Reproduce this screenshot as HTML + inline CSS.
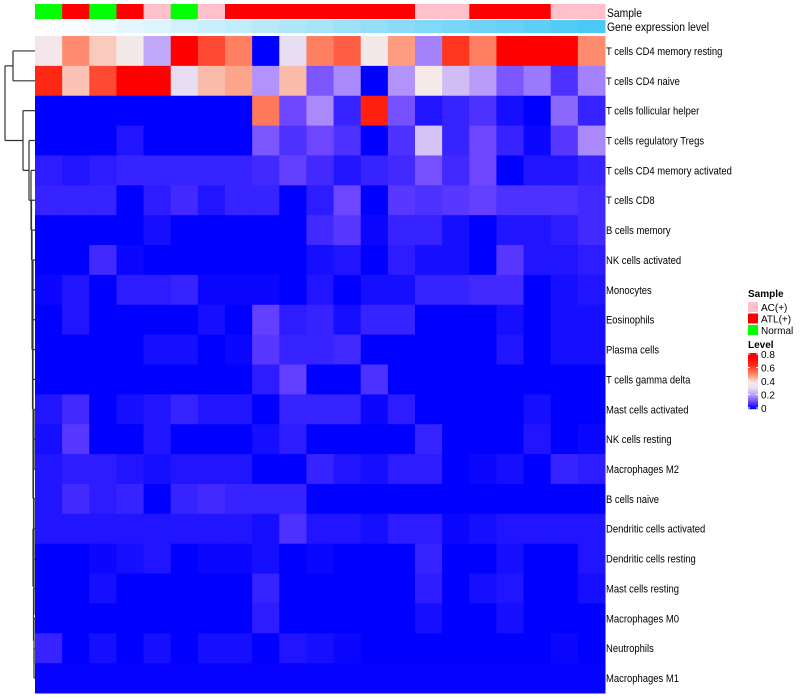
<!DOCTYPE html>
<html><head><meta charset="utf-8"><style>
body{margin:0;background:#fff;}
svg{display:block;font-family:"Liberation Sans",sans-serif;}
</style></head><body>
<svg id="chart" width="800" height="700"></svg>
<script>
const rowLabels=["T cells CD4 memory resting","T cells CD4 naive","T cells follicular helper","T cells regulatory  Tregs","T cells CD4 memory activated","T cells CD8","B cells memory","NK cells activated","Monocytes","Eosinophils","Plasma cells","T cells gamma delta","Mast cells activated","NK cells resting","Macrophages M2","B cells naive","Dendritic cells activated","Dendritic cells resting","Mast cells resting","Macrophages M0","Neutrophils","Macrophages M1"];
const sampleGroups=["Normal","ATL(+)","Normal","ATL(+)","AC(+)","Normal","AC(+)","ATL(+)","ATL(+)","ATL(+)","ATL(+)","ATL(+)","ATL(+)","ATL(+)","AC(+)","AC(+)","ATL(+)","ATL(+)","ATL(+)","AC(+)","AC(+)"];
const legendGroups=["AC(+)","ATL(+)","Normal"];
const levelTicks=[0,0.2,0.4,0.6,0.8];
const values=[
[0.36,0.5,0.42,0.37,0.22,0.75,0.6,0.52,0,0.3,0.52,0.57,0.37,0.48,0.17,0.63,0.52,0.8,0.8,0.8,0.5],
[0.65,0.43,0.6,0.75,0.75,0.3,0.44,0.47,0.19,0.44,0.12,0.18,0,0.19,0.38,0.25,0.2,0.12,0.16,0.07,0.17],
[0,0,0,0,0,0,0,0,0.53,0.1,0.18,0.05,0.67,0.11,0.03,0.05,0.07,0.02,0,0.14,0.05],
[0,0,0,0.03,0,0,0,0,0.12,0.07,0.1,0.07,0,0.07,0.26,0.05,0.1,0.05,0.01,0.08,0.18],
[0.04,0.03,0.04,0.05,0.05,0.05,0.05,0.05,0.06,0.09,0.06,0.03,0.05,0.06,0.11,0.06,0.1,0,0.03,0.03,0.05],
[0.05,0.05,0.05,0,0.04,0.06,0.03,0.05,0.05,0,0.04,0.1,0,0.08,0.07,0.08,0.09,0.07,0.07,0.07,0.06],
[0,0,0,0,0.02,0,0,0,0,0,0.06,0.08,0.01,0.05,0.05,0.02,0,0.03,0.03,0.04,0.06],
[0,0,0.06,0.01,0,0,0,0,0,0,0.02,0.03,0,0.04,0.02,0.02,0,0.08,0.03,0.03,0.04],
[0.01,0.03,0,0.04,0.04,0.05,0.01,0.01,0.01,0,0.03,0,0.02,0.02,0.05,0.05,0.06,0.06,0,0.02,0.03],
[0,0.03,0,0,0,0,0.02,0,0.09,0.04,0.05,0.02,0.05,0.05,0,0,0,0.02,0,0.02,0.02],
[0,0,0,0,0.02,0.02,0,0.01,0.08,0.05,0.05,0.06,0,0,0,0,0,0.03,0,0.02,0.02],
[0,0,0,0,0,0,0,0,0.04,0.09,0,0,0.07,0,0,0,0,0,0,0,0],
[0.03,0.06,0,0.02,0.03,0.05,0.03,0.03,0,0.05,0.05,0.05,0.01,0.04,0,0,0,0,0.02,0,0],
[0.02,0.08,0,0,0.03,0,0,0,0.02,0.04,0,0,0,0,0.05,0,0,0,0.03,0,0.01],
[0.03,0.04,0.04,0.03,0.02,0.03,0.03,0.03,0,0,0.05,0.03,0.02,0.04,0.04,0,0.01,0.02,0,0.05,0.04],
[0.03,0.06,0.04,0.05,0,0.05,0.06,0.05,0.05,0.05,0,0,0,0,0,0,0,0,0,0,0],
[0.03,0.03,0.03,0.03,0.03,0.03,0.03,0.03,0.02,0.07,0.03,0.03,0.02,0.04,0.04,0.01,0.02,0.03,0.03,0.03,0.03],
[0,0,0.01,0.02,0.03,0,0.01,0.01,0.02,0,0.01,0,0,0,0.05,0,0,0.02,0,0,0.03],
[0,0,0.02,0,0,0,0,0,0.05,0,0,0,0,0,0.04,0,0.02,0.03,0,0,0.02],
[0,0,0,0,0,0,0,0,0.04,0,0,0,0,0,0.02,0,0,0.02,0,0,0],
[0.05,0,0.02,0,0.02,0,0.02,0.02,0,0.03,0.02,0.01,0,0,0,0,0,0,0,0.01,0],
[0.005,0.005,0.005,0.005,0.005,0.005,0.005,0.005,0.005,0.005,0.005,0.005,0.005,0.005,0.005,0.005,0.005,0.005,0.005,0.005,0.005]
];
const NS="http://www.w3.org/2000/svg";
const svg=document.getElementById('chart');
function el(t,a,p){const e=document.createElementNS(NS,t);for(const k in a)e.setAttribute(k,a[k]);(p||svg).appendChild(e);return e;}
const groupColor={"AC(+)":"#ffc0cb","ATL(+)":"#ff0000","Normal":"#00ff00"};
const stops=[[0,[0,0,255]],[0.1,[110,70,255]],[0.2,[185,155,250]],[0.3,[232,222,242]],[0.38,[246,234,232]],[0.5,[255,140,110]],[0.65,[255,40,20]],[0.75,[255,0,0]],[10,[255,0,0]]];
function color(v){for(let i=0;i<stops.length-1;i++){const a=stops[i],b=stops[i+1];if(v<=b[0]){const t=Math.max(0,(v-a[0])/(b[0]-a[0]));const c=a[1].map((x,j)=>Math.round(x+(b[1][j]-x)*t));return `rgb(${c})`;}}return "red";}
const x0=35,x1=605,y0=36,y1=693;
const nC=sampleGroups.length,nR=rowLabels.length;
const cw=(x1-x0)/nC,rh=(y1-y0)/nR;
const xs=i=>x0+i*cw, ys=j=>y0+j*rh;
const SX=0.86;
for(let i=0;i<nC;i++){
  const r=el('rect',{x:xs(i),y:4,width:cw+0.5,height:15,fill:groupColor[sampleGroups[i]]});
  
  
  const t=i/(nC-1);
  const g=el('rect',{x:xs(i),y:20,width:cw+0.5,height:13,fill:`rgb(${Math.round(255-t*180)},${Math.round(255-t*55)},${Math.round(255-t*10)})`});
  
  
}
const t1=el('text',{x:607/SX,y:17,'font-size':12,fill:'#000',transform:`scale(${SX},1)`});t1.textContent='Sample';

const t2=el('text',{x:607/SX,y:31,'font-size':12,fill:'#000',transform:`scale(${SX},1)`});t2.textContent='Gene expression level';

for(let j=0;j<nR;j++){
  for(let i=0;i<nC;i++){
    const c=el('rect',{x:xs(i),y:ys(j),width:cw+0.5,height:rh+0.5,fill:color(values[j][i])});
    
    
  }
  const t=el('text',{x:606/SX,y:ys(j)+rh/2+4,'font-size':11,fill:'#000',transform:`scale(${SX},1)`});
  t.textContent=rowLabels[j];
  
  
}
const dg=el('g',{stroke:'#333','stroke-width':1.2,fill:'none'});


const cy=j=>ys(j)+rh/2;
function seg(a,b,c,d){el('path',{d:`M${a},${b}L${c},${d}`},dg);}
function join(x,ya,xa,yb,xb){seg(xa,ya,x,ya);seg(x,ya,x,yb);seg(x,yb,xb,yb);}
join(13,cy(0),35,cy(1),35);
let prevY=cy(21),prevX=35;
const hx=[34,34,33.5,34,33,34,33.5,33,34,33,32.5,33,32,33,32,31.5,31];
for(let j=20;j>=4;j--){const x=hx[20-j];const yj=cy(j);join(x,yj,35,prevY,prevX);prevY=(yj+prevY)/2;prevX=x;}
join(29,cy(3),35,prevY,prevX);const yA=(cy(3)+prevY)/2;
join(23,cy(2),35,yA,29);const yB=(cy(2)+yA)/2;
join(5,(cy(0)+cy(1))/2,13,yB,23);
const lg=el('g',{});
const st=el('text',{x:748,y:297,'font-size':10,'font-weight':'bold'},lg);st.textContent='Sample';
legendGroups.forEach((g,k)=>{
  const r=el('rect',{x:748,y:302+k*11.5,width:10,height:10,fill:groupColor[g]},lg);
  
  const t=el('text',{x:761,y:311+k*11.5,'font-size':10},lg);t.textContent=g;
  
});
const lt=el('text',{x:748,y:348,'font-size':10,'font-weight':'bold'},lg);lt.textContent='Level';
const ly=v=>408-v*67.5;
for(let k=0;k<56;k++){const v=(408-(353+k))/67.5;el('rect',{x:748,y:353+k,width:10,height:1.2,fill:color(v)},lg);}
levelTicks.forEach(v=>{
  el('line',{x1:748,x2:750,y1:ly(v),y2:ly(v),stroke:'#fff'},lg);
  el('line',{x1:756,x2:758,y1:ly(v),y2:ly(v),stroke:'#fff'},lg);
  const t=el('text',{x:761,y:ly(v)+4,'font-size':10},lg);t.textContent=v===0?'0':String(v);
  
});
</script>
</body></html>
